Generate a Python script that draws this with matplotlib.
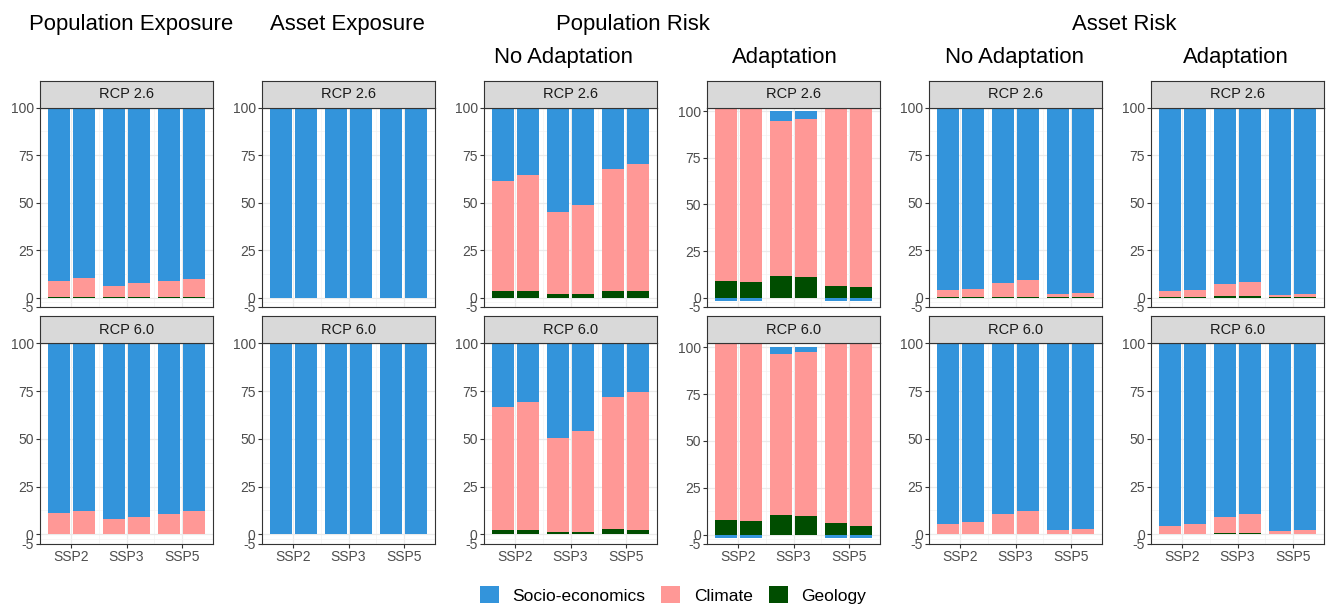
import matplotlib.pyplot as plt
from matplotlib.patches import Patch
import numpy as np

plt.rcParams['font.family'] = ['Liberation Sans', 'DejaVu Sans']
plt.rcParams['axes.unicode_minus'] = False

W, H = 1327, 606

ssp = ["SSP2", "SSP3", "SSP5"]
rcps = ["RCP 2.6", "RCP 6.0"]
legend_labels = ["Socio-economics", "Climate", "Geology"]

# each list: [RCP 2.6 bars, RCP 6.0 bars], two bars per SSP
pop_exp_geo = [[0.3, 0.3, 0.3, 0.3, 0.3, 0.3], [0.3, 0.3, 0.3, 0.3, 0.3, 0.3]]
pop_exp_clim = [[8.5, 9.9, 6.0, 7.1, 8.5, 9.5], [10.9, 12.1, 7.7, 8.8, 10.5, 12.1]]
pop_exp_soc = [[91.2, 89.8, 93.7, 92.6, 91.2, 90.2], [88.8, 87.6, 92.0, 90.9, 89.2, 87.6]]

asset_exp_geo = [[0, 0, 0, 0, 0, 0], [0, 0, 0, 0, 0, 0]]
asset_exp_clim = [[0, 0, 0, 0, 0, 0], [0, 0, 0, 0, 0, 0]]
asset_exp_soc = [[100, 100, 100, 100, 100, 100], [100, 100, 100, 100, 100, 100]]

pop_risk_na_geo = [[3.2, 3.2, 1.9, 1.9, 3.5, 3.5], [2.5, 2.3, 1.4, 1.4, 2.8, 2.5]]
pop_risk_na_clim = [[58.2, 61.4, 43.4, 46.9, 64.2, 67.0], [64.1, 66.8, 49.2, 52.6, 69.3, 72.0]]
pop_risk_na_soc = [[38.6, 35.4, 54.7, 51.2, 32.3, 29.5], [33.4, 30.9, 49.4, 46.0, 27.9, 25.5]]

pop_risk_ad_geo = [[9.1, 8.4, 11.6, 10.9, 6.3, 5.9], [7.9, 7.3, 10.6, 9.7, 5.9, 4.8]]
pop_risk_ad_clim = [[92.7, 93.5, 83.0, 85.2, 95.3, 95.9], [94.2, 94.8, 85.8, 87.6, 95.9, 97.0]]
pop_risk_ad_soc = [[-1.8, -1.9, 5.4, 3.9, -1.6, -1.8], [-2.1, -2.1, 3.6, 2.7, -1.8, -1.8]]

asset_risk_na_geo = [[0.2, 0.2, 0.5, 0.5, 0.1, 0.1], [0.2, 0.2, 0.4, 0.4, 0.1, 0.1]]
asset_risk_na_clim = [[3.8, 4.5, 7.4, 8.8, 1.8, 2.4], [5.1, 6.3, 10.0, 11.9, 2.4, 2.9]]
asset_risk_na_soc = [[96.0, 95.3, 92.1, 90.7, 98.1, 97.5], [94.7, 93.5, 89.6, 87.7, 97.5, 97.0]]

asset_risk_ad_geo = [[0.2, 0.2, 0.6, 0.6, 0.1, 0.1], [0.2, 0.2, 0.5, 0.5, 0.1, 0.1]]
asset_risk_ad_clim = [[3.1, 3.8, 6.3, 7.7, 1.1, 1.7], [4.2, 5.3, 8.7, 10.2, 1.8, 2.4]]
asset_risk_ad_soc = [[96.7, 96.0, 93.1, 91.7, 98.8, 98.2], [95.6, 94.5, 90.8, 89.3, 98.1, 97.5]]

columns = [
    (pop_exp_geo, pop_exp_clim, pop_exp_soc),
    (asset_exp_geo, asset_exp_clim, asset_exp_soc),
    (pop_risk_na_geo, pop_risk_na_clim, pop_risk_na_soc),
    (pop_risk_ad_geo, pop_risk_ad_clim, pop_risk_ad_soc),
    (asset_risk_na_geo, asset_risk_na_clim, asset_risk_na_soc),
    (asset_risk_ad_geo, asset_risk_ad_clim, asset_risk_ad_soc),
]

c_soc = "#3394DB"
c_clim = "#FF9896"
c_geo = "#004D00"

# layout in pixels
col_left = [40, 262, 484, 707, 929, 1151]
panel_w = 173
row_top = [107.7, 343.3]
row_bot = [307.0, 543.9]
strip_h = 27

fig = plt.figure(figsize=(W / 100, H / 100), dpi=100)

bar_w = 0.406
xpos = np.array([1, 1, 2, 2, 3, 3]) + np.array([-1, 1, -1, 1, -1, 1]) * 0.227

for c, (geo_l, clim_l, soc_l) in enumerate(columns):
    for r in range(2):
        geo = np.array(geo_l[r], dtype=float)
        clim = np.array(clim_l[r], dtype=float)
        soc = np.array(soc_l[r], dtype=float)

        left = col_left[c] / W
        ax = fig.add_axes([left, 1 - row_bot[r] / H, panel_w / W, (row_bot[r] - row_top[r]) / H])

        ax.bar(xpos, geo, bar_w, color=c_geo, zorder=2)
        ax.bar(xpos, clim, bar_w, bottom=geo, color=c_clim, zorder=2)
        soc_bottom = np.where(soc >= 0, geo + clim, 0)
        ax.bar(xpos, soc, bar_w, bottom=soc_bottom, color=c_soc, zorder=2)

        top = max(100, (geo + clim + np.clip(soc, 0, None)).max())
        ax.set_ylim(-5, top)
        ax.set_xlim(0.43, 3.57)

        ax.set_yticks([-5, 0, 25, 50, 75, 100])
        ax.set_yticks([-2.5, 12.5, 37.5, 62.5, 87.5], minor=True)
        ax.set_xticks([1, 2, 3])
        ax.set_xticks([1.5, 2.5], minor=True)
        ax.set_xticklabels(ssp)
        ax.grid(True, which='major', color='#EBEBEB', lw=0.9, zorder=0)
        ax.grid(True, which='minor', color='#F3F3F3', lw=0.5, zorder=0)
        ax.set_axisbelow(True)
        ax.tick_params(which='major', labelsize=10, colors='#333333', labelcolor='#4D4D4D',
                       length=3, width=0.8, pad=1.5)
        ax.tick_params(which='minor', length=0)
        if r == 0:
            ax.tick_params(axis='x', bottom=False, labelbottom=False)
        for sp in ax.spines.values():
            sp.set_color('#333333')
            sp.set_linewidth(0.8)

        # facet strip
        sax = fig.add_axes([left, 1 - row_top[r] / H, panel_w / W, strip_h / H])
        sax.set_facecolor('#D9D9D9')
        sax.set_xticks([])
        sax.set_yticks([])
        for sp in sax.spines.values():
            sp.set_color('#333333')
            sp.set_linewidth(0.8)
        sax.text(0.5, 0.5, rcps[r], ha='center', va='center', fontsize=10.5, color='#1A1A1A',
                 transform=sax.transAxes)

# titles
fig.text(131 / W, 1 - 30 / H, "Population Exposure", ha='center', va='baseline', fontsize=15.9)
fig.text(347 / W, 1 - 30 / H, "Asset Exposure", ha='center', va='baseline', fontsize=15.9)
fig.text(633 / W, 1 - 30 / H, "Population Risk", ha='center', va='baseline', fontsize=15.9)
fig.text(1124 / W, 1 - 30 / H, "Asset Risk", ha='center', va='baseline', fontsize=15.9)
fig.text(563 / W, 1 - 62.5 / H, "No Adaptation", ha='center', va='baseline', fontsize=15.9)
fig.text(785 / W, 1 - 62.5 / H, "Adaptation", ha='center', va='baseline', fontsize=15.9)
fig.text(1014 / W, 1 - 62.5 / H, "No Adaptation", ha='center', va='baseline', fontsize=15.9)
fig.text(1236 / W, 1 - 62.5 / H, "Adaptation", ha='center', va='baseline', fontsize=15.9)

handles = [Patch(facecolor=c_soc), Patch(facecolor=c_clim), Patch(facecolor=c_geo)]
fig.legend(handles, legend_labels, loc='lower center', bbox_to_anchor=(673 / W, -0.022), ncol=3,
           frameon=False, fontsize=12.5, handlelength=1.1, handleheight=1.1,
           handletextpad=0.8, columnspacing=0.9)

fig.savefig("out.png", dpi=100)
